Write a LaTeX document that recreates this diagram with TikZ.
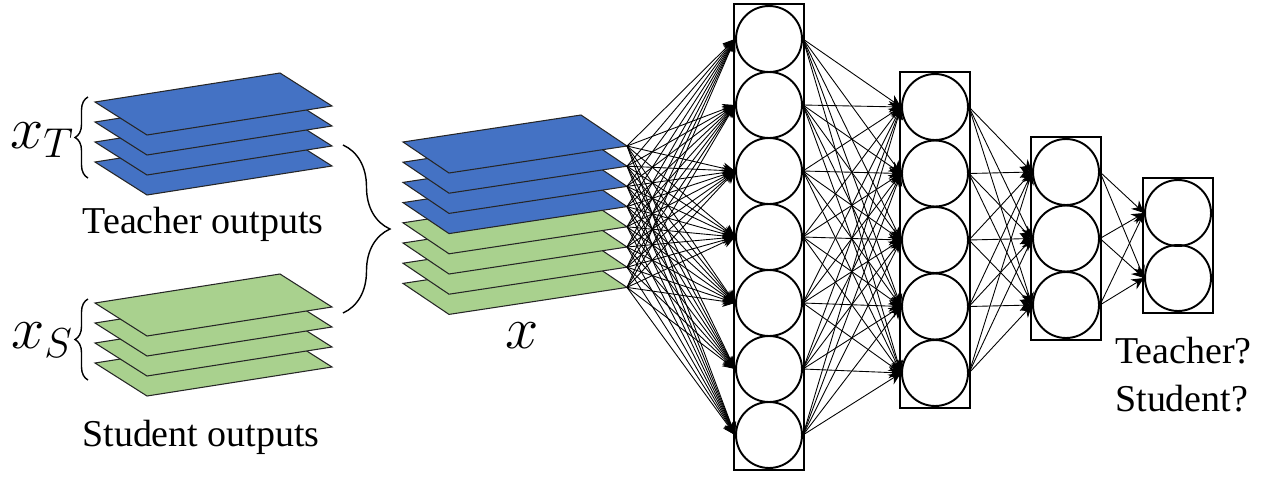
\RequirePackage{fix-cm}
\documentclass[tikz,border=0pt]{standalone}
\usepackage{fontspec}
\setmainfont{Liberation Serif}
\newfontfamily\labelfont{Liberation Serif}
\usetikzlibrary{arrows.meta,decorations.pathreplacing,fit}
\definecolor{tblue}{RGB}{68,114,196}
\definecolor{sgreen}{RGB}{169,209,142}

\begin{document}
\begin{tikzpicture}[x=0.02cm,y=-0.02cm]
\tikzstyle{every node}+=[inner sep=0pt,font=\labelfont\fontsize{21.6}{27}\selectfont]
\tikzstyle{neuron}=[draw=black,line width=1.1pt,circle,minimum size=1.32cm]
\tikzstyle{layerbox}=[draw=black,line width=1.1pt,inner sep=0.025cm]
\tikzstyle{wire}=[black,line width=0.5pt,-{Stealth[length=7pt,width=6.5pt]}]
\tikzstyle{sheet}=[draw=black!85,line width=0.6pt]
\tikzstyle{bigx}=[font=\fontsize{34}{38}\selectfont]
\useasboundingbox (0,0) rectangle (1261,477);
\foreach \k in {3,2,1,0}
  \filldraw [sheet,fill=tblue] (95,102+20*\k) -- ++(185,-29) -- ++(52,33) -- ++(-185,29) -- cycle;
\foreach \k in {3,2,1,0}
  \filldraw [sheet,fill=sgreen] (95,303+20*\k) -- ++(185,-29) -- ++(52,33) -- ++(-185,29) -- cycle;
\foreach \k in {7,6,5,4}
  \filldraw [sheet,fill=sgreen] (403,142+20.2*\k) -- ++(178,-27) -- ++(46,31) coordinate (x\k) -- ++(-178,27) -- cycle;
\foreach \k in {3,2,1,0}
  \filldraw [sheet,fill=tblue] (403,142+20.2*\k) -- ++(178,-27) -- ++(46,31) coordinate (x\k) -- ++(-178,27) -- cycle;
\draw [line width=0.8pt,decorate,decoration={brace,amplitude=0.26cm}] (88,178) -- (88,97);
\draw [line width=0.8pt,decorate,decoration={brace,amplitude=0.26cm}] (88,380) -- (88,299);
\draw [line width=0.8pt,decorate,decoration={brace,amplitude=0.94cm}] (343,145) -- (343,313);
\node [bigx] (xt) at (42,140) {$x_T$};
\node [bigx] (xs) at (42,340) {$x_S$};
\node [bigx] (xall) at (522,336) {$x$};
\node [anchor=base] (tlabel) at (203,233) {Teacher outputs};
\node [anchor=base] (slabel) at (201,446) {Student outputs};
\node [anchor=base west] (q1) at (1115,363) {Teacher?};
\node [anchor=base west] (q2) at (1115,411) {Student?};
\foreach \i in {1,...,7}
  \node [neuron] (a\i) at (769,{-27+66*\i}) {};
\foreach \i in {1,...,5}
  \node [neuron] (b\i) at (935,{40.5+66.5*\i}) {};
\foreach \i in {1,2,3}
  \node [neuron] (c\i) at (1066,{105.5+66.5*\i}) {};
\foreach \i in {1,2}
  \node [neuron] (d\i) at (1178,{148+65*\i}) {};
\node [layerbox,fit=(a1)(a7)] (boxa) {};
\node [layerbox,fit=(b1)(b5)] (boxb) {};
\node [layerbox,fit=(c1)(c3)] (boxc) {};
\node [layerbox,fit=(d1)(d2)] (boxd) {};
\foreach \k in {0,...,7}
  \foreach \j in {1,...,7}
    \draw [wire] (x\k) -- (a\j.west);
\foreach \i in {1,...,7}
  \foreach \j in {1,...,5}
    \draw [wire] (a\i.east) -- (b\j.west);
\foreach \i in {1,...,5}
  \foreach \j in {1,2,3}
    \draw [wire] (b\i.east) -- (c\j.west);
\foreach \i in {1,2,3}
  \foreach \j in {1,2}
    \draw [wire] (c\i.east) -- (d\j.west);
\end{tikzpicture}
\end{document}
